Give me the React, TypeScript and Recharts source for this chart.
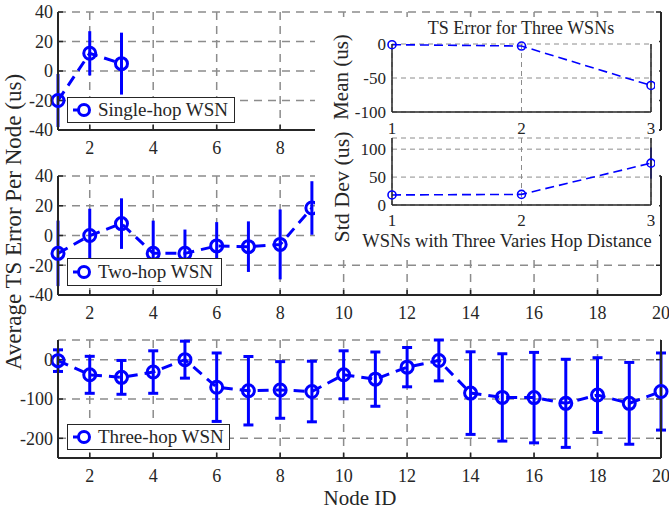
import React from 'react';
import { LineChart, Line, XAxis, YAxis, CartesianGrid, ErrorBar, Legend } from 'recharts';

const BLUE = '#0000ff';
const AXIS = '#262626';
const GRID = '#8c8c8c';
const FONT = '"Liberation Serif", "Times New Roman", serif';

// Single-hop WSN
const singleHopNodes = [1, 2, 3];
const singleHopMean = [-20, 12, 5];
const singleHopErr = [18, 15, 21];

// Two-hop WSN
const twoHopNodes = [1, 2, 3, 4, 5, 6, 7, 8, 9];
const twoHopMean = [-12, 0, 8, -12, -12, -7, -7.5, -6, 18.5];
const twoHopErr = [22, 18, 17, 22, 16, 16, 17, 23.5, 18];

// Three-hop WSN
const threeHopNodes = [1, 2, 3, 4, 5, 6, 7, 8, 9, 10, 11, 12, 13, 14, 15, 16, 17, 18, 19, 20];
const threeHopMean = [-2.5, -38.5, -45, -31.5, 0, -70, -79, -77, -81, -38.5, -49.5, -19, -2, -85, -96, -96.5, -111, -90, -111, -81];
const threeHopErr = [27.5, 47, 43, 54, 47, 87, 87, 72, 77, 61, 69, 50, 52, 105, 111, 115, 112, 95, 104, 98];

// Axis ticks
const nodeTicks = [2, 4, 6, 8, 10, 12, 14, 16, 18, 20];
const smallTicks = [-40, -20, 0, 20, 40];
const threeHopTicks = [-200, -100, 0];

// Inset: summary per WSN
const hopCounts = [1, 2, 3];
const hopMean = [-1, -3, -61];
const hopStd = [18, 19, 75];
const hopStdErr = [0, 0, 27.5];
const meanTicks = [-100, -50, 0];
const stdTicks = [0, 50, 100];

const zip = (xs: number[], ms: number[], es: number[]) =>
  xs.map((x, i) => ({ x, mean: ms[i], err: es[i] }));

const singleData = zip(singleHopNodes, singleHopMean, singleHopErr);
const twoData = zip(twoHopNodes, twoHopMean, twoHopErr);
const threeData = zip(threeHopNodes, threeHopMean, threeHopErr);
const meanData = hopCounts.map((x, i) => ({ x, v: hopMean[i] }));
const stdData = hopCounts.map((x, i) => ({ x, v: hopStd[i], err: hopStdErr[i] }));

const ring = (r: number, sw: number) => (p: any) => {
  const { cx, cy, index } = p;
  if (cx == null || cy == null) return <g key={`e${index}`} />;
  return <circle key={`d${index}`} cx={cx} cy={cy} r={r} fill="none" stroke={BLUE} strokeWidth={sw} />;
};

const blank = () => '';

function LegendBox({ label, w, h }: { label: string; w: number; h: number }) {
  return (
    <div
      style={{
        position: 'relative',
        width: w,
        height: h,
        boxSizing: 'border-box',
        border: `1.5px solid ${AXIS}`,
        background: '#fff',
        fontFamily: FONT,
        fontSize: 19,
        color: AXIS,
      }}
    >
      <svg width={26} height={h} style={{ position: 'absolute', left: 2, top: -1.5 }}>
        <line x1={3} y1={h / 2} x2={10} y2={h / 2} stroke={BLUE} strokeWidth={3} />
        <circle cx={14} cy={h / 2} r={5.5} fill="none" stroke={BLUE} strokeWidth={3} />
      </svg>
      <span style={{ position: 'absolute', left: 30, top: 0, lineHeight: `${h - 3}px`, whiteSpace: 'nowrap' }}>{label}</span>
    </div>
  );
}

type PanelProps = {
  top: number;
  height: number;
  data: any[];
  domain: [number, number];
  ticks: number[];
  label: string;
  legend: { left: number; top: number; w: number; h: number };
  cap: number;
  maxLabel?: number;
};

function Panel({ top, height, data, domain, ticks, label, legend, cap, maxLabel = 20 }: PanelProps) {
  const tickStyle = { fontSize: 18, fontFamily: FONT, fill: AXIS };
  const axisLine = { stroke: AXIS, strokeWidth: 2 };
  const tickLine = { stroke: AXIS, strokeWidth: 1.5 };
  return (
    <div style={{ position: 'absolute', left: 0, top }}>
      <LineChart width={669} height={height} data={data} margin={{ top: 12, right: 0, bottom: 0, left: 0 }}>
        <CartesianGrid xAxisId="b" yAxisId="l" stroke={GRID} strokeWidth={1.5} strokeDasharray="8 6" />
        <XAxis
          xAxisId="b"
          dataKey="x"
          type="number"
          domain={[1, 20]}
          ticks={nodeTicks}
          interval={0}
          height={30}
          tickSize={-5}
          tickMargin={16}
          tickFormatter={(v: number) => (v <= maxLabel ? String(v) : '')}
          axisLine={axisLine}
          tickLine={tickLine}
          tick={tickStyle}
        />
        <XAxis
          xAxisId="t"
          orientation="top"
          type="number"
          domain={[1, 20]}
          ticks={nodeTicks}
          interval={0}
          allowDataOverflow
          height={0}
          tickSize={-5}
          tickFormatter={blank}
          axisLine={axisLine}
          tickLine={tickLine}
        />
        <YAxis
          yAxisId="l"
          type="number"
          domain={domain}
          ticks={ticks}
          interval={0}
          width={58}
          tickSize={-5}
          tickMargin={10}
          axisLine={axisLine}
          tickLine={tickLine}
          tick={tickStyle}
        />
        <YAxis
          yAxisId="r"
          orientation="right"
          type="number"
          domain={domain}
          ticks={ticks}
          interval={0}
          allowDataOverflow
          width={8}
          tickSize={-5}
          tickFormatter={blank}
          axisLine={axisLine}
          tickLine={tickLine}
        />
        <Line
          xAxisId="b"
          yAxisId="l"
          dataKey="mean"
          stroke={BLUE}
          strokeWidth={3}
          strokeDasharray="11 7"
          dot={ring(6, 3)}
          activeDot={false}
          isAnimationActive={false}
        >
          <ErrorBar dataKey="err" direction="y" width={cap} stroke={BLUE} strokeWidth={3} />
        </Line>
        <Legend
          verticalAlign="middle"
          align="center"
          layout="horizontal"
          wrapperStyle={{ left: legend.left, top: legend.top - top, width: legend.w, height: legend.h }}
          content={() => <LegendBox label={label} w={legend.w} h={legend.h} />}
        />
      </LineChart>
    </div>
  );
}

function Inset({ plotTop, data, domain, ticks, tickMargin, withErr, plotH }: any) {
  const tickStyle = { fontSize: 17, fontFamily: FONT, fill: AXIS };
  const axisLine = { stroke: AXIS, strokeWidth: 1.5 };
  const axisH = 30;
  const padTop = 14;
  return (
    <div style={{ position: 'absolute', left: 334, top: plotTop - padTop }}>
      <LineChart width={321} height={padTop + plotH + axisH} data={data} margin={{ top: padTop, right: 3, bottom: 0, left: 0 }}>
        <CartesianGrid xAxisId="b" yAxisId="l" stroke={GRID} strokeWidth={1} strokeDasharray="5 4" />
        <XAxis
          xAxisId="b"
          dataKey="x"
          type="number"
          domain={[1, 3]}
          ticks={hopCounts}
          interval={0}
          height={axisH}
          tickSize={0}
          tickMargin={tickMargin}
          axisLine={axisLine}
          tickLine={false}
          tick={tickStyle}
        />
        <XAxis
          xAxisId="t"
          orientation="top"
          type="number"
          domain={[1, 3]}
          ticks={hopCounts}
          allowDataOverflow
          height={0}
          tickFormatter={blank}
          axisLine={axisLine}
          tickLine={false}
        />
        <YAxis
          yAxisId="l"
          type="number"
          domain={domain}
          ticks={ticks}
          interval={0}
          width={58}
          tickSize={0}
          tickMargin={6}
          axisLine={axisLine}
          tickLine={false}
          tick={tickStyle}
        />
        <YAxis
          yAxisId="r"
          orientation="right"
          type="number"
          domain={domain}
          ticks={ticks}
          allowDataOverflow
          width={1}
          tickFormatter={blank}
          axisLine={axisLine}
          tickLine={false}
        />
        <Line
          xAxisId="b"
          yAxisId="l"
          dataKey="v"
          stroke={BLUE}
          strokeWidth={1.6}
          strokeDasharray="9 5"
          dot={ring(4, 1.6)}
          activeDot={false}
          isAnimationActive={false}
        >
          {withErr ? <ErrorBar dataKey="err" direction="y" width={0} stroke={BLUE} strokeWidth={1.6} /> : null}
        </Line>
      </LineChart>
    </div>
  );
}

export default function App() {
  return (
    <div style={{ position: 'absolute', left: 0, top: 0, width: 669, height: 511, background: '#fff', overflow: 'hidden' }}>
      <Panel
        top={0}
        height={160}
        data={singleData}
        domain={[-40, 40]}
        ticks={smallTicks}
        label="Single-hop WSN"
        legend={{ left: 67, top: 97, w: 168, h: 26 }}
        cap={0}
        maxLabel={8}
      />
      <Panel
        top={164}
        height={161}
        data={twoData}
        domain={[-40, 40]}
        ticks={smallTicks}
        label="Two-hop WSN"
        legend={{ left: 67, top: 258, w: 155, h: 28 }}
        cap={0}
      />
      <Panel
        top={328}
        height={160}
        data={threeData}
        domain={[-250, 50]}
        ticks={threeHopTicks}
        label="Three-hop WSN"
        legend={{ left: 67, top: 424, w: 163, h: 26 }}
        cap={5}
      />
      <div style={{ position: 'absolute', left: 315, top: 17, width: 344, height: 241, background: '#fff' }} />
      <Inset plotTop={44} plotH={68} data={meanData} domain={[-100, 0]} ticks={meanTicks} tickMargin={10} withErr={false} />
      <Inset plotTop={138} plotH={67} data={stdData} domain={[0, 120]} ticks={stdTicks} tickMargin={9} withErr={true} />
      <svg width={669} height={511} style={{ position: 'absolute', left: 0, top: 0, pointerEvents: 'none' }}>
        <g fontFamily={FONT} fill={AXIS}>
          <text x={0} y={0} fontSize={23} textAnchor="middle" dominantBaseline="central" transform="translate(13,222) rotate(-90)">
            Average TS Error Per Node (us)
          </text>
          <text x={360} y={505} fontSize={21} textAnchor="middle">Node ID</text>
          <text x={521} y={34} fontSize={18} textAnchor="middle">TS Error for Three WSNs</text>
          <text x={0} y={0} fontSize={21} textAnchor="middle" dominantBaseline="central" transform="translate(341,77) rotate(-90)">
            Mean (us)
          </text>
          <text x={0} y={0} fontSize={22} textAnchor="middle" dominantBaseline="central" transform="translate(341,187) rotate(-90)">
            Std Dev (us)
          </text>
          <text x={507} y={247} fontSize={18.5} textAnchor="middle">WSNs with Three Varies Hop Distance</text>
        </g>
      </svg>
    </div>
  );
}
